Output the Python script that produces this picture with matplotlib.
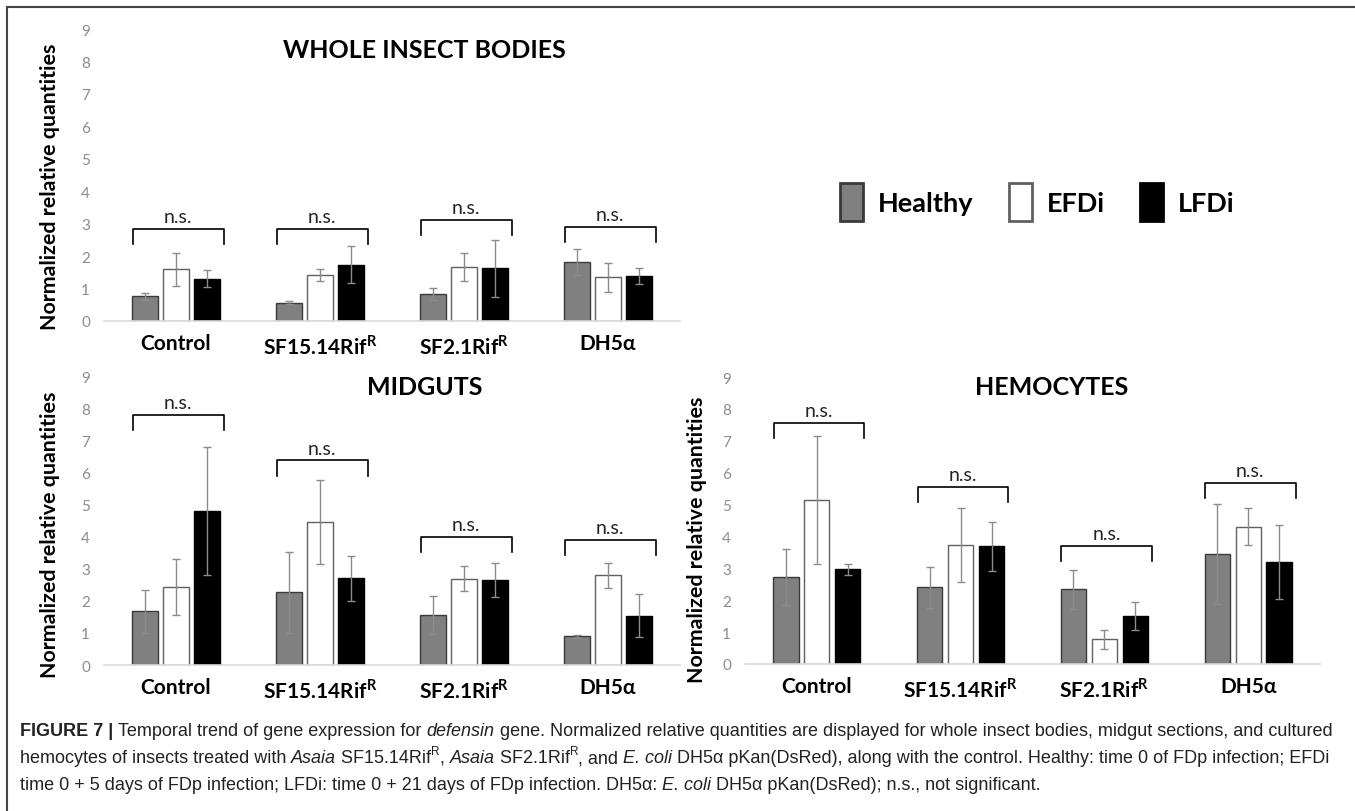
import matplotlib
matplotlib.use('Agg')
import matplotlib.pyplot as plt
from matplotlib.font_manager import FontProperties
from matplotlib.lines import Line2D
import numpy as np

# 図のサイズ(ピクセル)
W, H = 1355, 812

groups = ['Control', 'SF15.14Rif$^\\mathregular{R}$', 'SF2.1Rif$^\\mathregular{R}$', 'DH5α']
series = ['Healthy', 'EFDi', 'LFDi']

# whole insect bodies: 平均値 (Healthy, EFDi, LFDi) と誤差
whole_mean = [[0.76, 0.56, 0.84, 1.81],
              [1.59, 1.42, 1.66, 1.35],
              [1.30, 1.74, 1.62, 1.38]]
whole_err = [[0.10, 0.05, 0.18, 0.40],
             [0.52, 0.18, 0.43, 0.45],
             [0.26, 0.58, 0.87, 0.25]]
whole_bracket = [2.83, 2.83, 3.12, 2.91]

# midguts
mid_mean = [[1.67, 2.27, 1.56, 0.89],
            [2.44, 4.45, 2.68, 2.79],
            [4.79, 2.70, 2.65, 1.54]]
mid_err = [[0.66, 1.26, 0.60, 0.04],
           [0.87, 1.32, 0.39, 0.38],
           [2.00, 0.70, 0.53, 0.66]]
mid_bracket = [7.80, 6.37, 3.98, 3.90]

# hemocytes
hem_mean = [[2.72, 2.40, 2.34, 3.45],
            [5.15, 3.73, 0.78, 4.31],
            [2.97, 3.69, 1.51, 3.19]]
hem_err = [[0.88, 0.64, 0.62, 1.57],
           [2.01, 1.15, 0.30, 0.58],
           [0.17, 0.76, 0.43, 1.16]]
hem_bracket = [7.56, 5.56, 3.71, 5.68]

face = ['#808080', '#ffffff', '#000000']
edge = ['#3a3a3a', '#606060', '#000000']
offsets = [-0.215, 0.0, 0.215]

LATO = ['Lato', 'DejaVu Sans']


def px_rect(l, t, r, b):
    return [l / W, 1 - b / H, (r - l) / W, (b - t) / H]


def draw_panel(ax, means, errs, brackets):
    x = np.arange(len(groups))
    bars = []
    for i in range(3):
        b = ax.bar(x + offsets[i], means[i], 0.175, yerr=errs[i],
                   color=face[i], edgecolor=edge[i], linewidth=1.0,
                   label=series[i],
                   error_kw=dict(ecolor='#8c8c8c', elinewidth=1.0, capsize=3, capthick=1.0))
        bars.append(b)
    # n.s. の括弧
    for xi, top in zip(x, brackets):
        ax.plot([xi - 0.30, xi - 0.30, xi + 0.33, xi + 0.33],
                [top - 0.47, top, top, top - 0.47], color='black', lw=1.2)
        ax.text(xi + 0.015, top + 0.38, 'n.s.', ha='center', va='center',
                fontsize=14, family=LATO, color='#222222')
    ax.set_xlim(-0.5, 3.5)
    ax.set_ylim(0, 9)
    ax.set_yticks(range(10))
    ax.set_xticks(x)
    ax.set_xticklabels(groups)
    for lab in ax.get_xticklabels():
        lab.set_fontfamily(LATO)
        lab.set_fontweight('bold')
        lab.set_fontsize(15)
    for lab in ax.get_yticklabels():
        lab.set_fontfamily(LATO)
        lab.set_fontsize(11)
        lab.set_color('#8c8c8c')
    ax.tick_params(length=0)
    ax.tick_params(axis='y', pad=10)
    ax.tick_params(axis='x', pad=9)
    for s in ['top', 'right', 'left']:
        ax.spines[s].set_visible(False)
    ax.spines['bottom'].set_color('#d9d9d9')
    ax.spines['bottom'].set_linewidth(1.2)
    return bars


fig = plt.figure(figsize=(W / 100, H / 100), dpi=100)

ax_top = fig.add_axes(px_rect(104, 30, 680, 322))
ax_mid = fig.add_axes(px_rect(104, 377, 680, 666))
ax_hem = fig.add_axes(px_rect(745, 378, 1320, 665))

bars = draw_panel(ax_top, whole_mean, whole_err, whole_bracket)
draw_panel(ax_mid, mid_mean, mid_err, mid_bracket)
draw_panel(ax_hem, hem_mean, hem_err, hem_bracket)

# タイトル
for (xc, yc, t) in [(424, 50, 'WHOLE INSECT BODIES'), (425, 388, 'MIDGUTS'), (1052, 388, 'HEMOCYTES')]:
    fig.text(xc / W, 1 - yc / H, t, ha='center', va='center', fontsize=18,
             fontweight='bold', family=LATO)

# 縦軸ラベル
for (xc, yc) in [(50, 187), (50, 535), (697, 540)]:
    fig.text(xc / W, 1 - yc / H, 'Normalized relative quantities', rotation=90,
             ha='center', va='center', fontsize=15.4, fontweight='bold', family=LATO)

# 凡例
leg = fig.legend(handles=bars, labels=series, loc='center left',
                 bbox_to_anchor=(816 / W, 1 - 203 / H), ncol=3, frameon=False,
                 handlelength=0.85, handleheight=1.75, handletextpad=0.55,
                 columnspacing=1.3, prop=FontProperties(family=LATO, weight='bold', size=19.5))
for h in leg.legend_handles:
    h.set_linewidth(2.0)

# 外枠
fig.add_artist(Line2D([7 / W, 7 / W], [0, 1 - 8 / H], transform=fig.transFigure,
                      color='#444444', lw=1.5))
fig.add_artist(Line2D([7 / W, 1], [1 - 8 / H, 1 - 8 / H], transform=fig.transFigure,
                      color='#444444', lw=1.5))

# キャプション
cap_size = 13
cap_color = '#222222'
reg = FontProperties(family='Liberation Sans', size=cap_size)
bold = FontProperties(family='Liberation Sans', size=cap_size, weight='bold')
ital = FontProperties(family='Liberation Sans', size=cap_size, style='italic')
sup = FontProperties(family='Liberation Sans', size=cap_size * 0.65)

cap_lines = [
    [('FIGURE 7 | ', bold), ('Temporal trend of gene expression for ', reg), ('defensin', ital),
     (' gene. Normalized relative quantities are displayed for whole insect bodies, midgut sections, and cultured', reg)],
    [('hemocytes of insects treated with ', reg), ('Asaia', ital), (' SF15.14Rif', reg), ('R', sup), (', ', reg),
     ('Asaia', ital), (' SF2.1Rif', reg), ('R', sup), (', and ', reg), ('E. coli', ital),
     (' DH5α pKan(DsRed), along with the control. Healthy: time 0 of FDp infection; EFDi', reg)],
    [('time 0 + 5 days of FDp infection; LFDi: time 0 + 21 days of FDp infection. DH5α: ', reg),
     ('E. coli', ital), (' DH5α pKan(DsRed); n.s., not significant.', reg)],
]
cap_y = [730, 757, 784]

renderer = fig.canvas.get_renderer()


def seg_width(s, prop):
    w1, _, _ = renderer.get_text_width_height_descent('|' + s + '|', prop, ismath=False)
    w0, _, _ = renderer.get_text_width_height_descent('||', prop, ismath=False)
    return w1 - w0


for segs, yc in zip(cap_lines, cap_y):
    xp = 20.0
    for s, prop in segs:
        yy = yc - 6 if prop is sup else yc
        fig.text(xp / W, 1 - yy / H, s, fontproperties=prop, color=cap_color,
                 ha='left', va='center_baseline')
        xp += seg_width(s, prop)

fig.savefig('out.png', dpi=100)
